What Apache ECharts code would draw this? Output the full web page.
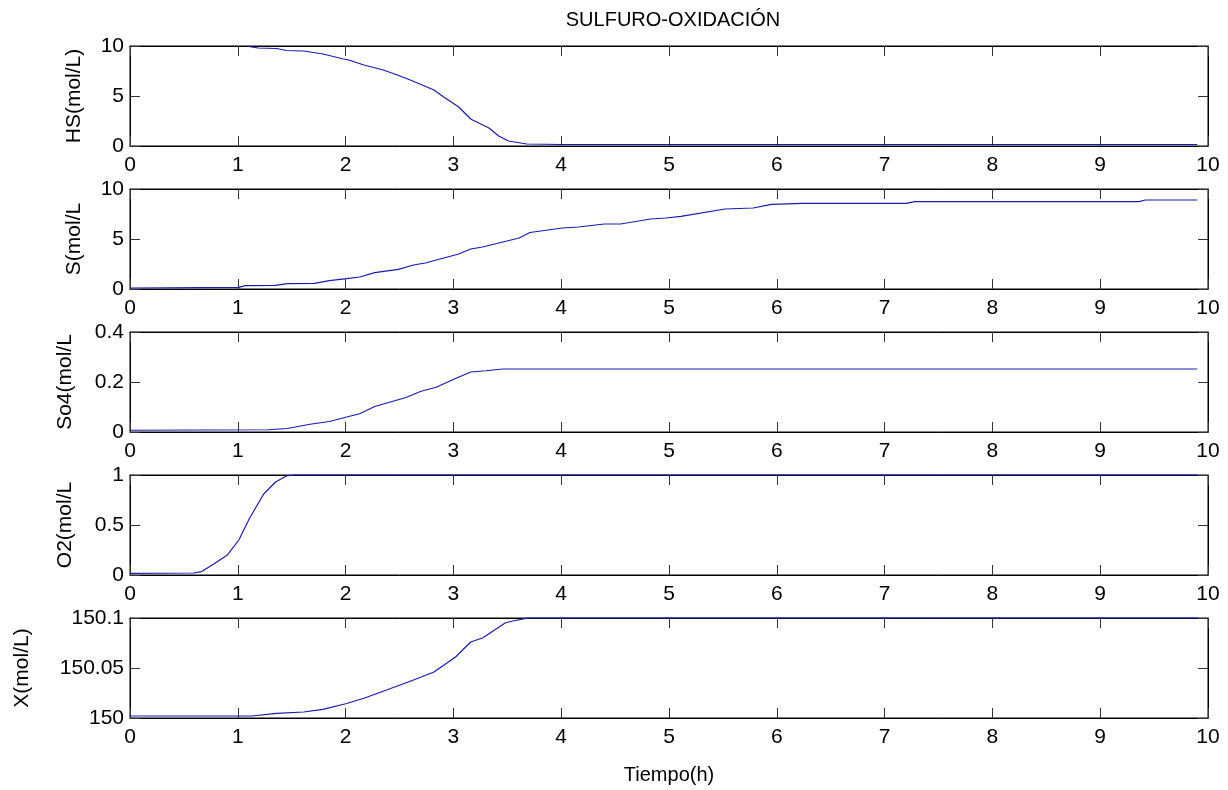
<!DOCTYPE html>
<html>
<head>
<meta charset="utf-8">
<script src="https://cdn.jsdelivr.net/npm/echarts@6/dist/echarts.min.js"></script>
<style>html,body{margin:0;padding:0;background:#fff}#c{width:1228px;height:790px}</style>
</head>
<body>
<div id="c"></div>
<script>
// ---- data ----
var title = 'SULFURO-OXIDACIÓN';
var xName = 'Tiempo(h)';
var yNames = ['HS(mol/L)', 'S(mol/L', 'So4(mol/L', 'O2(mol/L', 'X(mol/L)'];

var tHS = [1.1, 1.19, 1.36, 1.45, 1.61, 1.79, 1.98, 2.03, 2.17, 2.35, 2.48, 2.60, 2.82, 2.91, 3.05, 3.16, 3.33, 3.42, 3.51, 3.68, 4.0, 9.9];
var vHS = [9.95, 9.8, 9.75, 9.55, 9.5, 9.2, 8.7, 8.6, 8.1, 7.6, 7.1, 6.6, 5.6, 4.9, 3.9, 2.7, 1.8, 1.0, 0.5, 0.2, 0.15, 0.15];

var tS = [0, 1.01, 1.07, 1.35, 1.46, 1.71, 1.85, 2.01, 2.13, 2.27, 2.49, 2.63, 2.74, 2.91, 3.05, 3.16, 3.27, 3.61, 3.71, 4.01, 4.16, 4.40, 4.55, 4.83, 4.97, 5.11, 5.52, 5.78, 5.95, 6.24, 7.20, 7.28, 9.36, 9.42, 9.9];
var vS = [0.1, 0.17, 0.33, 0.37, 0.54, 0.57, 0.84, 1.04, 1.2, 1.64, 1.97, 2.4, 2.6, 3.1, 3.5, 4.0, 4.2, 5.1, 5.65, 6.1, 6.2, 6.5, 6.5, 7.0, 7.1, 7.26, 8.0, 8.1, 8.46, 8.56, 8.56, 8.73, 8.73, 8.9, 8.9];

var tSO4 = [0, 1.28, 1.46, 1.67, 1.85, 2.01, 2.13, 2.27, 2.56, 2.70, 2.84, 3.02, 3.16, 3.30, 3.46, 9.9];
var vSO4 = [0.007, 0.009, 0.014, 0.031, 0.042, 0.06, 0.073, 0.102, 0.138, 0.163, 0.179, 0.214, 0.24, 0.245, 0.252, 0.252];

var tO2 = [0, 0.59, 0.665, 0.77, 0.90, 1.01, 1.11, 1.24, 1.35, 1.45, 1.52, 9.9];
var vO2 = [0.017, 0.02, 0.034, 0.105, 0.197, 0.35, 0.57, 0.81, 0.93, 0.99, 1.0, 1.0];

var tX = [0, 1.13, 1.36, 1.61, 1.79, 2.01, 2.17, 2.38, 2.63, 2.82, 3.02, 3.16, 3.27, 3.48, 3.55, 3.66, 3.7, 9.9];
var vX = [150.002, 150.002, 150.0047, 150.006, 150.0087, 150.0145, 150.0197, 150.028, 150.038, 150.046, 150.061, 150.076, 150.080, 150.095, 150.097, 150.0993, 150.1, 150.1];

var yMin = [0, 0, 0, 0, 150];
var yMax = [10, 10, 0.4, 1, 150.1];
var yStep = [5, 5, 0.2, 0.5, 0.05];
var xMin = 0, xMax = 10, xStep = 1;

// ---- chart ----
var FONT = 'Liberation Sans, Arial, sans-serif';
var times = [tHS, tS, tSO4, tO2, tX];
var vals = [vHS, vS, vSO4, vO2, vX];
var nameGaps = [45, 45, 54, 54, 97];

var grids = [], xAxes = [], yAxes = [], series = [];
for (var i = 0; i < 5; i++) {
  grids.push({left: 130, right: 20, top: 46 + 143 * i, height: 100,
    show: true, borderColor: '#000', borderWidth: 1, containLabel: false});
  var tick = {show: true, inside: true, length: 10, lineStyle: {color: '#333', width: 1}};
  xAxes.push({type: 'value', gridIndex: i, position: 'bottom', min: xMin, max: xMax, interval: xStep,
    axisLine: {show: true, onZero: false, lineStyle: {color: '#000'}},
    axisTick: tick, splitLine: {show: false},
    axisLabel: {show: true, color: '#000', fontSize: 21, fontFamily: FONT, margin: 9, showMinLabel: true, showMaxLabel: true},
    name: i === 4 ? xName : '', nameLocation: 'middle', nameGap: 47,
    nameTextStyle: {color: '#000', fontSize: 20, fontFamily: FONT}});
  xAxes.push({type: 'value', gridIndex: i, position: 'top', min: xMin, max: xMax, interval: xStep,
    axisLine: {show: true, onZero: false, lineStyle: {color: '#000'}},
    axisTick: tick, splitLine: {show: false}, axisLabel: {show: false}});
  var fmt = (function (k) { return function (v) { return String(+v.toFixed(k === 4 ? 2 : 1)); }; })(i);
  yAxes.push({type: 'value', gridIndex: i, position: 'left', min: yMin[i], max: yMax[i], interval: yStep[i],
    axisLine: {show: true, onZero: false, lineStyle: {color: '#000'}},
    axisTick: tick, splitLine: {show: false},
    axisLabel: {show: true, color: '#000', fontSize: 21, fontFamily: FONT, margin: 6, formatter: fmt, showMinLabel: true, showMaxLabel: true},
    name: yNames[i], nameLocation: 'middle', nameGap: nameGaps[i], nameRotate: 90,
    nameTextStyle: {color: '#000', fontSize: 21, fontFamily: FONT}});
  yAxes.push({type: 'value', gridIndex: i, position: 'right', min: yMin[i], max: yMax[i], interval: yStep[i],
    axisLine: {show: true, onZero: false, lineStyle: {color: '#000'}},
    axisTick: tick, splitLine: {show: false}, axisLabel: {show: false}});
  var d = [];
  for (var j = 0; j < times[i].length; j++) d.push([times[i][j], vals[i][j]]);
  series.push({type: 'line', xAxisIndex: 2 * i, yAxisIndex: 2 * i, data: d,
    showSymbol: false, symbol: 'none', clip: false, animation: false,
    lineStyle: {color: '#1a1ab0', width: 1.2}});
}

var chart = echarts.init(document.getElementById('c'), null, {renderer: 'canvas'});
chart.setOption({
  backgroundColor: '#fff',
  animation: false,
  title: {text: title, left: 668, textAlign: 'center', top: 5,
    textStyle: {color: '#000', fontSize: 20, fontWeight: 'normal', fontFamily: FONT}},
  grid: grids, xAxis: xAxes, yAxis: yAxes, series: series
});
</script>
</body>
</html>
